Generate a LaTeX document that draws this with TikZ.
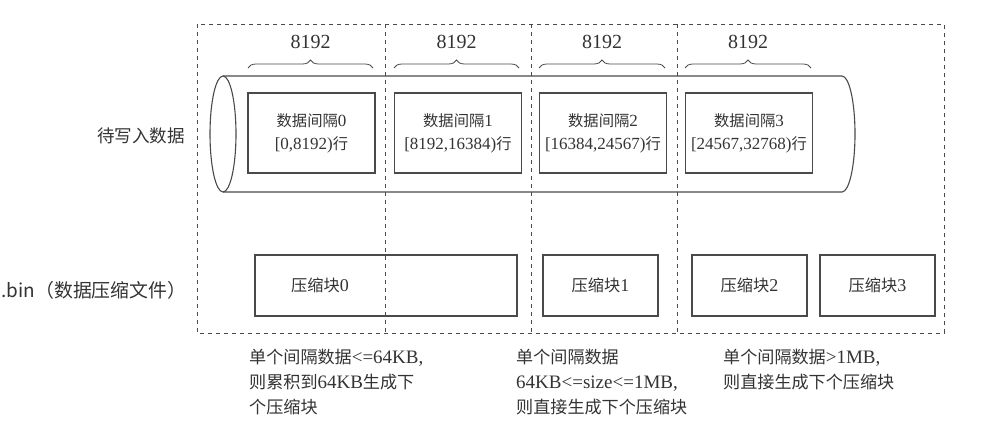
\documentclass[tikz,border=0pt]{standalone}
\usepackage{fontspec}
\setmainfont{Liberation Serif}
\newfontfamily\cjk[Scale=0.9]{Noto Sans CJK SC}
\usetikzlibrary{decorations.pathreplacing}
\definecolor{linie}{HTML}{4A4A4A}
\definecolor{schrift}{HTML}{333333}
\tikzset{
  rahmen/.style={linie,dash pattern=on 4pt off 4pt,line width=0.9pt},
  rohr/.style={linie,line width=1.1pt},
  datbox/.style={draw=linie,line width=1.1pt,minimum width=127pt,minimum height=80pt,align=center,text=schrift,font=\fontsize{17}{23}\selectfont,inner sep=0pt},
  kblock/.style={draw=linie,line width=1.1pt,minimum height=61pt},
  kname/.style={text=schrift,font=\fontsize{18}{21}\selectfont},
  klammer/.style={decorate,decoration={brace,amplitude=8pt},linie,line width=0.8pt},
  zahl/.style={text=schrift,font=\fontsize{20}{23}\selectfont},
  titel/.style={text=schrift,font=\cjk\fontsize{19.5}{23}\selectfont},
  notiz/.style={text=schrift,align=left,anchor=north west,font=\fontsize{19}{25}\selectfont,inner sep=0pt},
}

\begin{document}
\begin{tikzpicture}[x=1pt,y=-1pt]
  \useasboundingbox (0,0) rectangle (1008,434);
  % Rohr mit den Datenintervallen
  \draw[rohr] (223,134) ellipse [x radius=13,y radius=58];
  \draw[rohr] (223,76) -- (842,76) arc[start angle=-90,end angle=90,x radius=13,y radius=58] -- (223,192);
  \node[datbox] (d0) at (311.5,133) {{\cjk 数据间隔}0\\{}[0,8192){\cjk 行}};
  \node[datbox] (d1) at (458,133) {{\cjk 数据间隔}1\\{}[8192,16384){\cjk 行}};
  \node[datbox] (d2) at (603,133) {{\cjk 数据间隔}2\\{}[16384,24567){\cjk 行}};
  \node[datbox] (d3) at (749,133) {{\cjk 数据间隔}3\\{}[24567,32768){\cjk 行}};
  % Klammern
  \draw[klammer] (248,68) -- (373,68);
  \draw[klammer] (394,68) -- (519,68);
  \draw[klammer] (539,68) -- (665,68);
  \draw[klammer] (685,68) -- (811,68);
  \node[zahl] (z0) at (310.5,42) {8192};
  \node[zahl] (z1) at (456.5,42) {8192};
  \node[zahl] (z2) at (602,42) {8192};
  \node[zahl] (z3) at (748,42) {8192};
  \node[titel] (daten) at (141,136) {待写入数据};
  % Kompressionsbloecke
  \node[kblock,minimum width=262pt] (k0) at (386,285.5) {};
  \node[kname] (k0n) at (320,285.5) {{\cjk 压缩块}0};
  \node[kblock,minimum width=115pt,kname] (k1) at (600.5,285.5) {{\cjk 压缩块}1};
  \node[kblock,minimum width=115pt,kname] (k2) at (749.5,285.5) {{\cjk 压缩块}2};
  \node[kblock,minimum width=115pt,kname] (k3) at (877.5,285.5) {{\cjk 压缩块}3};
  \node[titel,font=\cjk\fontsize{21}{24}\selectfont] (bin) at (94,290) {.bin（数据压缩文件）};
  % gestrichelter Rahmen
  \draw[rahmen] (197,24) rectangle (944,333);
  \draw[rahmen] (385,24) -- (385,333);
  \draw[rahmen] (531,24) -- (531,333);
  \draw[rahmen] (677,24) -- (677,333);
  % Anmerkungen
  \node[notiz] (n0) at (249,349) {{\cjk 单个间隔数据}<=64KB,\\{\cjk 则累积到}64KB{\cjk 生成下}\\{\cjk 个压缩块}};
  \node[notiz] (n1) at (516,349) {{\cjk 单个间隔数据}\\64KB<=size<=1MB,\\{\cjk 则直接生成下个压缩块}};
  \node[notiz] (n2) at (723,349) {{\cjk 单个间隔数据}>1MB,\\{\cjk 则直接生成下个压缩块}};
\end{tikzpicture}
\end{document}
